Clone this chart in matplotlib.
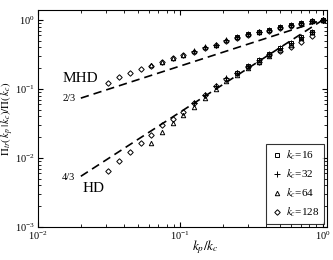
import numpy as np
import matplotlib
matplotlib.use("Agg")
import matplotlib.pyplot as plt

plt.rcParams['font.family'] = ['Liberation Serif', 'DejaVu Serif']
plt.rcParams['mathtext.fontset'] = 'stix'

# k_p/k_c grid: 2^(-5 + i/4), i = 0..20
kp_kc = [2.0 ** (-5 + i / 4) for i in range(21)]

# first bin index for each k_c
kc_labels = ['16', '32', '64', '128']
kc_start = [12, 8, 4, 0]
kc_markers = ['s', '+', '^', 'D']

# MHD curves, one per k_c, starting at kc_start
mhd_16 = [0.56, 0.62, 0.67, 0.72, 0.78, 0.84, 0.91, 0.98, 1.0]
mhd_32 = [0.35, 0.40, 0.44, 0.51, 0.56, 0.62, 0.67, 0.72, 0.78, 0.84, 0.91, 0.98, 1.0]
mhd_64 = [0.22, 0.25, 0.285, 0.315, 0.35, 0.40, 0.44, 0.51, 0.56, 0.62, 0.67, 0.72,
          0.78, 0.84, 0.91, 0.98, 1.0]
mhd_128 = [0.122, 0.148, 0.17, 0.195, 0.215, 0.245, 0.28, 0.31, 0.34, 0.39, 0.43,
           0.50, 0.55, 0.61, 0.66, 0.70, 0.76, 0.82, 0.88, 0.96, 1.0]

# HD curves
hd_16 = [0.17, 0.215, 0.26, 0.32, 0.39, 0.46, 0.57, 0.68, 1.0]
hd_32 = [0.062, 0.082, 0.11, 0.145, 0.17, 0.215, 0.26, 0.32, 0.39, 0.46, 0.57, 0.68, 1.0]
hd_64 = [0.0165, 0.024, 0.032, 0.042, 0.055, 0.074, 0.10, 0.13, 0.16, 0.20, 0.25,
         0.30, 0.37, 0.44, 0.55, 0.66, 1.0]
hd_128 = [0.0065, 0.0091, 0.0122, 0.0165, 0.0216, 0.030, 0.037, 0.046, 0.063, 0.082,
          0.11, 0.14, 0.17, 0.21, 0.25, 0.31, 0.36, 0.40, 0.48, 0.59, 1.0]

mhd_series = [mhd_16, mhd_32, mhd_64, mhd_128]
hd_series = [hd_16, hd_32, hd_64, hd_128]

fig = plt.figure(figsize=(3.33, 2.6), dpi=100)
ax = fig.add_axes([0.114, 0.127, 0.868, 0.835])

for lab, start, mk, mhd, hd in zip(kc_labels, kc_start, kc_markers, mhd_series, hd_series):
    x = kp_kc[start:]
    size = 3.2 if mk != '+' else 4
    if mk == 'D':
        size = 2.8
    ax.plot(x, mhd, linestyle='none', marker=mk, ms=size, mfc='none', mec='black',
            mew=0.7, label=r'$k_c$=' + lab)
    ax.plot(x, hd, linestyle='none', marker=mk, ms=size, mfc='none', mec='black',
            mew=0.7)

# power-law guide lines
xl = np.array([0.02, 1.0])
ax.plot(xl, xl ** (2 / 3), 'k--', lw=1.2, dashes=(5, 3))
ax.plot(xl, xl ** (4 / 3), 'k--', lw=1.2, dashes=(5, 3))

ax.text(0.0148, 0.125, 'MHD', fontsize=11)
ax.text(0.0148, 0.066, '2/3', fontsize=7.5)
ax.text(0.0148, 0.0048, '4/3', fontsize=7.5)
ax.text(0.0205, 0.0032, 'HD', fontsize=11)

ax.set_xscale('log')
ax.set_yscale('log')
ax.set_xlim(0.01, 1.07)
ax.set_ylim(1e-3, 1.4)
ax.tick_params(which='both', direction='in', top=True, right=True, labelsize=7.5)
ax.tick_params(which='major', length=3.5, pad=2)
ax.tick_params(which='minor', length=2)
ax.set_xlabel(r'$k_p/k_c$', fontsize=9.5)
ax.set_ylabel(r'$\Pi_{tr}(\,k_p\,|\,k_c)/\Pi(\,k_c)$', fontsize=7.8)
ax.xaxis.set_label_coords(0.58, -0.05)
ax.yaxis.set_label_coords(-0.076, 0.5)

leg = ax.legend(loc='lower right', fontsize=8, frameon=True, fancybox=False,
                edgecolor='black', handletextpad=0.2, borderpad=0.4,
                labelspacing=0.5, handlelength=1.2, borderaxespad=0.3)
leg.get_frame().set_linewidth(0.8)

fig.savefig('out.png', dpi=100)
